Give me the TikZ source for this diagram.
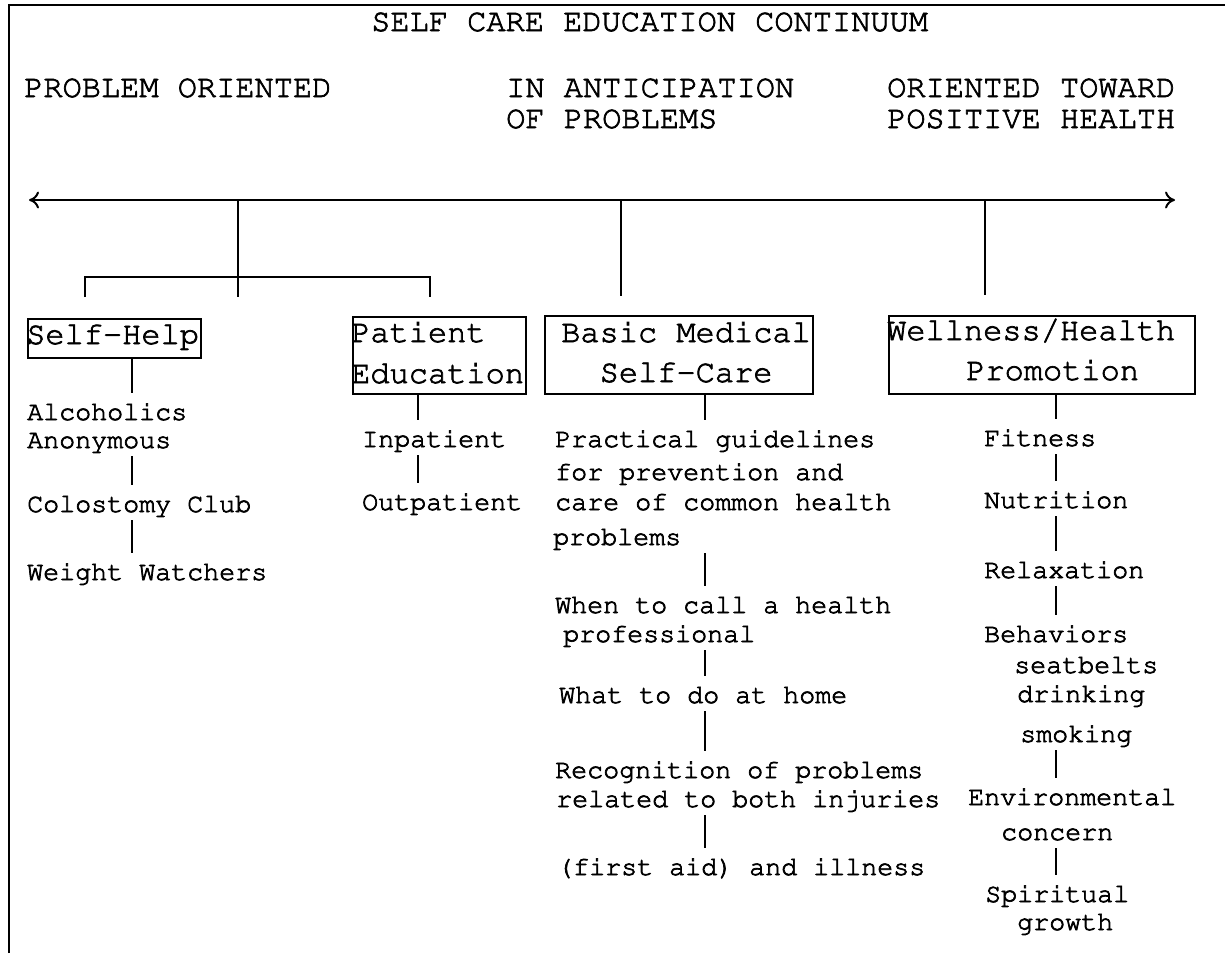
\documentclass[tikz,border=0pt]{standalone}
\usepackage[T1]{fontenc}
\usetikzlibrary{arrows.meta}
\newcommand\thickink{\special{pdf:literal direct 2 Tr 0.7 w}}
\newcommand\courbig{\fontencoding{T1}\fontfamily{pcr}\fontsize{32}{40}\selectfont\thickink}
\newcommand\coursmall{\fontencoding{T1}\fontfamily{pcr}\fontsize{26.67}{30}\selectfont\thickink}
\begin{document}
\begin{tikzpicture}[x=1pt,y=-1pt,line join=miter,
  big/.style={font=\courbig, inner sep=0pt, anchor=base west},
  item/.style={font=\coursmall, inner sep=0pt, anchor=base west, text height=27pt, text depth=8pt},
  box/.style={draw, line width=2pt, inner sep=0pt, anchor=north west},
  conn/.style={line width=2pt},
  link/.style={line width=1.7pt},
  tip/.style={{To[length=10pt,width=17pt]}-{To[length=10pt,width=17pt]}}]
\useasboundingbox (0,0) rectangle (1225,953);
\fill[white] (0,0) rectangle (1225,953);
% frame
\draw[line width=2.6pt] (9,953) -- (9,5) -- (1225,5);
% title and headers
\node[big] (title) at (371,31) {SELF CARE EDUCATION CONTINUUM};
\node[big] (po)  at (24,97)  {PROBLEM ORIENTED};
\node[big] (ia1) at (506,97) {IN ANTICIPATION};
\node[big] (ia2) at (506,128) {OF PROBLEMS};
\node[big] (ot1) at (887,97) {ORIENTED TOWARD};
\node[big] (ot2) at (887,128) {POSITIVE HEALTH};
% continuum
\coordinate (cl) at (29,200);
\coordinate (cr) at (1175,200);
\draw[conn,tip] (cl) -- (cr);
\coordinate (j1) at (238,200); \coordinate (j1e) at (238,297);
\coordinate (j2) at (621,200); \coordinate (j2e) at (621,296);
\coordinate (j3) at (985,200); \coordinate (j3e) at (985,295);
\coordinate (bl) at (85,277);  \coordinate (bl2) at (85,297);
\coordinate (br) at (430,277); \coordinate (br2) at (430,297);
\draw[conn] (j1) -- (j1e);
\draw[conn] (j2) -- (j2e);
\draw[conn] (j3) -- (j3e);
\draw[conn] (bl2) -- (bl) -- (br) -- (br2);
% boxes
\node[box, minimum width=173, minimum height=39] (sh) at (27,318) {};
\node[box, minimum width=173, minimum height=77] (pe) at (352,316) {};
\node[box, minimum width=268, minimum height=78] (bm) at (544,315) {};
\node[box, minimum width=306, minimum height=78] (wh) at (888,315) {};
\node[big] (shT)  at (26,344)  {Self-Help};
\node[big] (peT1) at (351,342) {Patient};
\node[big] (peT2) at (351,383) {Education};
\node[big] (bmT1) at (561,342) {Basic Medical};
\node[big] (bmT2) at (599.5,382) {Self-Care};
\node[big] (whT1) at (887,340) {Wellness/Health};
\node[big] (whT2) at (966,380) {Promotion};
% stem x positions
\coordinate (xsh) at (132,0);
\coordinate (xpe) at (418,0);
\coordinate (xbm) at (705,0);
\coordinate (xwh) at (1056,0);
% self-help column
\node[item] (alc1) at (27,420) {Alcoholics};
\node[item] (alc2) at (27,448) {Anonymous};
\node[item] (col)  at (27,512) {Colostomy Club};
\node[item] (ww)   at (27,580) {Weight Watchers};
\draw[link] (sh.south -| xsh) -- (alc1.north -| xsh);
\draw[link] (alc2.south -| xsh) -- (col.north -| xsh);
\draw[link] (col.south -| xsh) -- (ww.north -| xsh);
% patient education column
\node[item] (inp) at (362,447) {Inpatient};
\node[item] (outp) at (362,510) {Outpatient};
\draw[link] (pe.south -| xpe) -- (inp.north -| xpe);
\draw[link] (inp.south -| xpe) -- (outp.north -| xpe);
% basic medical column
\node[item] (pg1) at (555,447) {Practical guidelines};
\node[item] (pg2) at (555,480) {for prevention and};
\node[item] (pg3) at (555,510) {care of common health};
\node[item] (pg4) at (553,545) {problems};
\node[item] (wc1) at (555,613) {When to call a health};
\node[item] (wc2) at (563,642) {professional};
\node[item] (wd)  at (559,703) {What to do at home};
\node[item] (rp1) at (555,778) {Recognition of problems};
\node[item] (rp2) at (556,807) {related to both injuries};
\node[item] (fa)  at (557,875) {(first aid) and illness};
\draw[link] (bm.south -| xbm) -- (pg1.north -| xbm);
\draw[link] (pg4.south -| xbm) -- (wc1.north -| xbm);
\draw[link] (wc2.south -| xbm) -- (wd.north -| xbm);
\draw[link] (wd.south -| xbm) -- (rp1.north -| xbm);
\draw[link] (rp2.south -| xbm) -- (fa.north -| xbm);
% wellness column
\node[item] (fit) at (984,446) {Fitness};
\node[item] (nut) at (984,508) {Nutrition};
\node[item] (rel) at (984,578) {Relaxation};
\node[item] (beh) at (984,642) {Behaviors};
\node[item] (sb)  at (1014,673) {seatbelts};
\node[item] (dr)  at (1017,702) {drinking};
\node[item] (sm)  at (1020,742) {smoking};
\node[item] (env1) at (968,805) {Environmental};
\node[item] (env2) at (1001,840) {concern};
\node[item] (sp1) at (985,902) {Spiritual};
\node[item] (sp2) at (1017,930) {growth};
\draw[link] (wh.south -| xwh) -- (fit.north -| xwh);
\draw[link] (fit.south -| xwh) -- (nut.north -| xwh);
\draw[link] (nut.south -| xwh) -- (rel.north -| xwh);
\draw[link] (rel.south -| xwh) -- (beh.north -| xwh);
\draw[link] (sm.south -| xwh) -- (env1.north -| xwh);
\draw[link] (env2.south -| xwh) -- (sp1.north -| xwh);
\end{tikzpicture}
\end{document}
